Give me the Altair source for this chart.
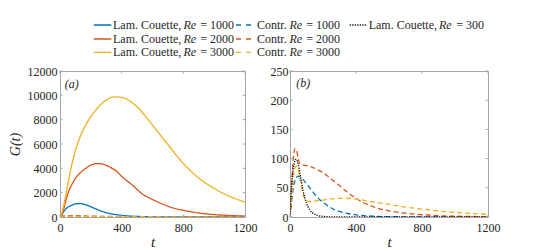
import altair as alt
import pandas as pd

# ---------------- data ----------------
t_lam1000 = [0, 5, 10, 15, 20, 30, 40, 50, 67, 83, 100, 117, 133, 150, 167, 183, 200, 233, 267, 300, 333, 367, 400, 450, 500, 600, 700, 800, 1000, 1200]
G_lam1000 = [0, 56, 150, 256, 367, 553, 694, 794, 917, 1006, 1070, 1105, 1100, 1065, 1006, 928, 839, 661, 489, 356, 261, 189, 137, 80, 50, 19, 7, 3, 0.4, 0]

t_lam2000 = [0, 10, 20, 30, 40, 55, 70, 85, 100, 135, 170, 200, 235, 270, 300, 335, 370, 400, 470, 530, 600, 670, 730, 800, 900, 1000, 1100, 1200]
G_lam2000 = [0, 170, 500, 950, 1470, 2050, 2500, 2850, 3180, 3670, 4030, 4270, 4390, 4370, 4240, 4020, 3730, 3340, 2620, 1930, 1440, 1040, 760, 550, 330, 200, 125, 76]

t_lam3000 = [0, 10, 20, 30, 40, 50, 60, 80, 100, 120, 150, 200, 250, 300, 350, 400, 450, 500, 550, 600, 700, 800, 900, 1000, 1100, 1200]
G_lam3000 = [0, 250, 750, 1350, 1950, 2650, 3300, 4500, 5450, 6250, 7150, 8250, 9050, 9600, 9880, 9830, 9550, 9050, 8350, 7550, 5950, 4400, 3200, 2350, 1700, 1230]

t_con1000 = [0, 10, 20, 30, 40, 50, 60, 70, 80, 100, 125, 150, 175, 200, 250, 300, 350, 400, 450, 500, 600, 800, 1000, 1200]
G_con1000 = [0, 28, 50, 62, 68, 70, 69, 67, 64, 57, 48, 39, 31, 25, 15.5, 9.5, 6, 3.7, 2.3, 1.4, 0.6, 0.15, 0.05, 0]

t_con2000 = [0, 10, 20, 30, 40, 50, 60, 80, 100, 130, 160, 200, 250, 300, 350, 400, 450, 500, 600, 700, 800, 900, 1000, 1100, 1200]
G_con2000 = [0, 55, 100, 117, 114, 100, 91, 89, 88, 86, 82, 76, 65, 54, 42, 32, 24, 18, 10.5, 6.5, 4, 2.3, 1.4, 0.9, 0.6]

t_con3000 = [0, 10, 20, 30, 40, 50, 60, 70, 80, 90, 100, 120, 150, 200, 250, 300, 350, 400, 450, 500, 600, 700, 800, 900, 1000, 1100, 1200]
G_con3000 = [0, 35, 68, 84, 87, 80, 67, 52, 39, 31, 27.5, 26.5, 27, 29, 31, 32, 32, 30.5, 28.5, 26, 21.5, 17, 13.5, 10.5, 8, 6, 4.5]

t_lam300 = [0, 2, 4, 6, 8, 10, 12, 15, 20, 25, 30, 35, 40, 45, 50, 55, 60, 70, 80, 90, 100, 110, 120, 135, 150, 170, 200, 250, 300, 1200]
G_lam300 = [0, 7.5, 19.5, 33, 45, 54.5, 62.5, 71.5, 82.5, 90.5, 96, 98.8, 98.3, 95.5, 90.5, 83.5, 75.5, 59.5, 44, 32, 23.5, 17, 12.3, 7.7, 4.7, 2.5, 1, 0.2, 0, 0]

series_names = ["Lam. Couette, Re = 1000", "Lam. Couette, Re = 2000", "Lam. Couette, Re = 3000",
                "Contr. Re = 1000", "Contr. Re = 2000", "Contr. Re = 3000", "Lam. Couette, Re = 300"]
series_t = [t_lam1000, t_lam2000, t_lam3000, t_con1000, t_con2000, t_con3000, t_lam300]
series_G = [G_lam1000, G_lam2000, G_lam3000, G_con1000, G_con2000, G_con3000, G_lam300]

x_ticks = [0, 400, 800, 1200]
ya_ticks = [0, 2000, 4000, 6000, 8000, 10000, 12000]
yb_ticks = [0, 50, 100, 150, 200, 250]

# ---------------- styles ----------------
FONT = "Liberation Serif"
TXT = "#262626"
BOX = "#a6a6a6"
series_colors = ["#0072BD", "#D95319", "#EDB120", "#0072BD", "#D95319", "#EDB120", "#000000"]
series_dash = [[1, 0], [1, 0], [1, 0], [5, 3], [5, 3], [5, 3], [1.2, 1.3]]

rows = []
for name, ts, gs in zip(series_names, series_t, series_G):
    for t, g in zip(ts, gs):
        rows.append({"series": name, "t": t, "G": g})
df = pd.DataFrame(rows)

df_a = df[df["series"] != "Lam. Couette, Re = 300"]
df_b = df[~df["series"].isin(series_names[:3])]

H = 146
AX = dict(labelFont=FONT, labelFontSize=12, labelColor=TXT, titleFont=FONT,
          titleColor=TXT, titleFontWeight="normal", ticks=False, domain=False, grid=False)


def panel(data, w, ymax, yticks, letter, lx, ly, ytitle):
    xscale = alt.Scale(domain=[0, 1200], nice=False, zero=False)
    yscale = alt.Scale(domain=[0, ymax], nice=False, zero=False)
    xaxis = alt.Axis(values=x_ticks, format="d", title="t", titleFontStyle="italic",
                     titleFontSize=15, titleY=29, titleBaseline="alphabetic",
                     labelFlush=False, labelPadding=5, **AX)
    if ytitle:
        yaxis = alt.Axis(values=yticks, format="d", labelPadding=3, title=ytitle,
                         titleFontStyle="italic", titleFontSize=14,
                         titleX=-37.5, titleY=H / 2, titleBaseline="bottom", titleAlign="center", **AX)
    else:
        yaxis = alt.Axis(values=yticks, format="d", labelPadding=2, title="", **AX)
    lines = alt.Chart(data).mark_line(strokeWidth=1.3, clip=True, interpolate="monotone").encode(
        x=alt.X("t:Q", scale=xscale, axis=xaxis),
        y=alt.Y("G:Q", scale=yscale, axis=yaxis),
        color=alt.Color("series:N", scale=alt.Scale(domain=series_names, range=series_colors), legend=None),
        strokeDash=alt.StrokeDash("series:N", scale=alt.Scale(domain=series_names, range=series_dash), legend=None),
    )
    xt = alt.Chart(pd.DataFrame({"t": x_ticks})).mark_rule(color=BOX, strokeWidth=1)
    yt = alt.Chart(pd.DataFrame({"G": yticks})).mark_rule(color=BOX, strokeWidth=1)
    tk = 2.5
    xbot = xt.encode(x=alt.X("t:Q", scale=xscale, axis=xaxis), y=alt.value(H), y2=alt.value(H - tk))
    xtop = xt.encode(x=alt.X("t:Q", scale=xscale, axis=xaxis), y=alt.value(0), y2=alt.value(tk))
    yl = yt.encode(y=alt.Y("G:Q", scale=yscale, axis=yaxis), x=alt.value(0), x2=alt.value(tk))
    yr = yt.encode(y=alt.Y("G:Q", scale=yscale, axis=yaxis), x=alt.value(w), x2=alt.value(w - tk))
    lab = alt.Chart(alt.Data(values=[{}])).mark_text(
        text=letter, font=FONT, fontStyle="italic", fontSize=12, align="left",
        baseline="middle", color=TXT).encode(x=alt.value(lx), y=alt.value(ly))
    return alt.layer(lines, xbot, xtop, yl, yr, lab).properties(
        width=w, height=H, view=alt.ViewBackground(stroke=BOX, strokeWidth=1))


pa = panel(df_a, 185, 12000, ya_ticks, "(a)", 4.7, 13, "G(t)")
pb = panel(df_b, 198, 250, yb_ticks, "(b)", 6.3, 12.3, None)

# ---------------- custom legend ----------------
dummy = alt.Data(values=[{}])
leg_layers = [alt.Chart(dummy).mark_rule(strokeOpacity=0).encode(
    x=alt.value(-50.5), x2=alt.value(-49.5), y=alt.value(10))]

# (series index, symbol x1, x2, row y, prefix, prefix x, Re x, suffix, suffix right x)
leg_entries = [
    (0, 33.7, 51.3, 17.0, "Lam. Couette,", 53.0, 123.5, "= 1000", 174.0),
    (1, 33.7, 51.3, 31.0, "Lam. Couette,", 53.0, 123.5, "= 2000", 174.0),
    (2, 33.7, 51.3, 44.3, "Lam. Couette,", 53.0, 123.5, "= 3000", 174.0),
    (3, 176.0, 191.0, 17.0, "Contr.", 197.0, 229.5, "= 1000", 280.0),
    (4, 176.0, 191.0, 31.0, "Contr.", 197.0, 229.5, "= 2000", 280.0),
    (5, 176.0, 191.0, 44.3, "Contr.", 197.0, 229.5, "= 3000", 280.0),
    (6, 289.7, 307.3, 17.0, "Lam. Couette,", 308.7, 379.0, "= 300", 424.0),
]
for i, x1, x2, y, pre, px, rx, suf, sx in leg_entries:
    dash = [5, 5] if 3 <= i <= 5 else series_dash[i]
    leg_layers.append(alt.Chart(dummy).mark_rule(
        color=series_colors[i], strokeWidth=1.3, strokeDash=dash).encode(
        x=alt.value(x1), x2=alt.value(x2), y=alt.value(y)))
    leg_layers.append(alt.Chart(dummy).mark_text(
        text=pre, font=FONT, fontSize=12, align="left", baseline="middle", color=TXT).encode(
        x=alt.value(px), y=alt.value(y)))
    leg_layers.append(alt.Chart(dummy).mark_text(
        text="Re", font=FONT, fontSize=12, fontStyle="italic", align="left", baseline="middle", color=TXT).encode(
        x=alt.value(rx), y=alt.value(y)))
    leg_layers.append(alt.Chart(dummy).mark_text(
        text=suf, font=FONT, fontSize=12, align="right", baseline="middle", color=TXT).encode(
        x=alt.value(sx), y=alt.value(y)))

legend = alt.layer(*leg_layers).properties(
    width=428, height=50, view=alt.ViewBackground(strokeWidth=0, stroke="transparent"))

chart = alt.vconcat(
    legend,
    alt.hconcat(pa, pb, spacing=45, bounds="flush"),
    spacing=13, bounds="flush",
).properties(padding=0).configure(font=FONT).configure_view(strokeWidth=0).configure_axis(
    labelFont=FONT, titleFont=FONT, labelFontSize=12, labelColor=TXT,
    titleColor=TXT, titleFontWeight="normal").configure_axisX(labelFont=FONT).configure_axisY(labelFont=FONT)

chart.save("out.html", embed_options={"renderer": "svg", "actions": False})
